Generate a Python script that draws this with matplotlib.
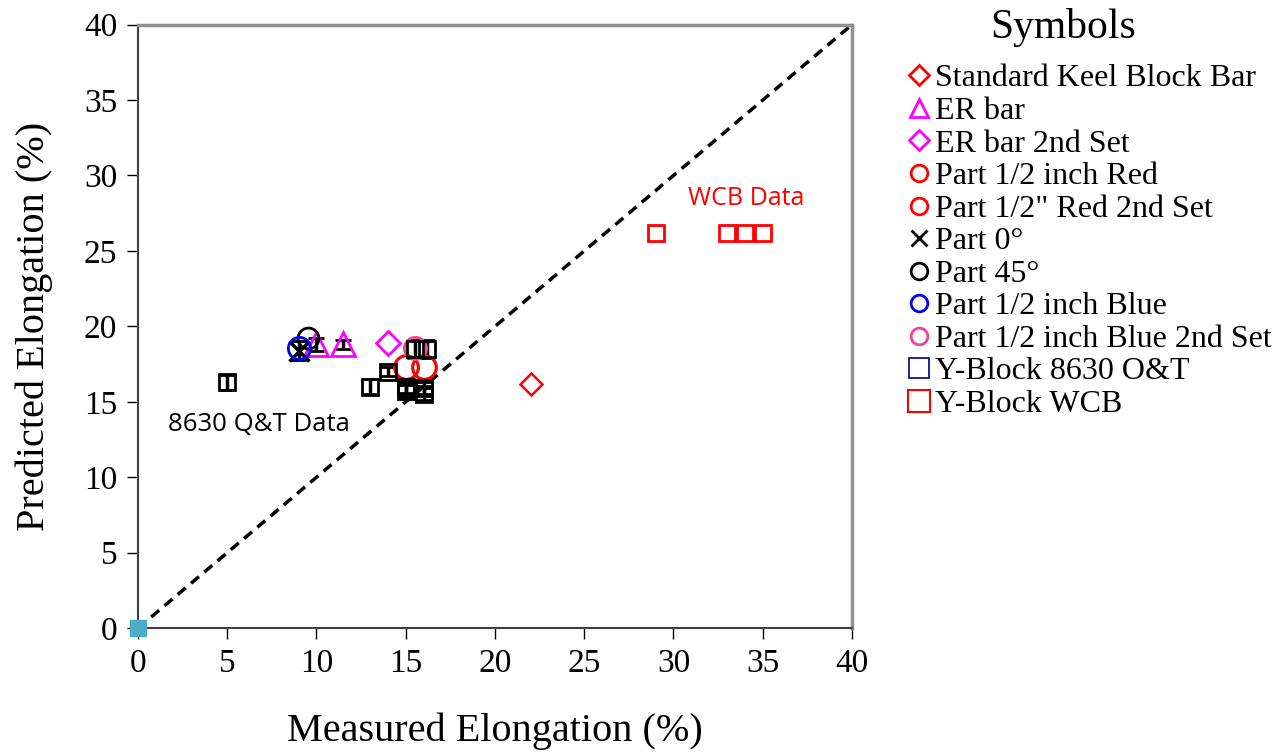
import matplotlib
matplotlib.use("Agg")
import matplotlib.pyplot as plt

SERIF = "Liberation Serif"

# (measured %, predicted %) per series
keel_x, keel_y = [22.0], [16.2]
er_x, er_y = [10.0, 11.5], [18.8, 18.8]
er2_x, er2_y = [14.0], [18.9]
red_x, red_y = [15.0, 16.0], [17.3, 17.3]
red2_x, red2_y = [15.0, 16.0], [17.3, 17.3]
p0_x, p0_y = [9.0], [18.4]
p45_x, p45_y = [9.5], [19.2]
blue_x, blue_y = [9.0], [18.6]
blue2_x, blue2_y = [15.5], [18.6]
qt_x = [5.0, 13.0, 14.0, 15.0, 15.0, 15.5, 16.2, 16.0, 16.0]
qt_y = [16.3, 16.0, 17.0, 16.0, 15.7, 18.5, 18.5, 15.9, 15.5]
qt_err = [0.5, 0.5, 0.3, 0.4, 0.4, 0.6, 0.6, 0.4, 0.4]
er_err = [0.4, 0.3]
wcb_x, wcb_y = [29.0, 33.0, 34.0, 35.0], [26.2, 26.2, 26.2, 26.2]

fig = plt.figure(figsize=(12.87, 7.55), dpi=100)
ax = fig.add_axes([0.1072, 0.168, 0.5548, 0.7994])

ax.plot([0, 40], [0, 40], ls=(0, (3, 2)), color="black", lw=2.5, zorder=1)

# error bars drawn underneath the markers
ax.errorbar(qt_x, qt_y, yerr=qt_err, fmt="none", ecolor="black", elinewidth=2.5,
            capsize=6, capthick=2, zorder=2)
ax.errorbar(er_x, er_y, yerr=er_err, fmt="none", ecolor="black", elinewidth=2.5,
            capsize=6, capthick=2, zorder=2)
ax.errorbar(p0_x, p0_y, yerr=[0.6], fmt="none", ecolor="black", elinewidth=2.5,
            capsize=6, capthick=2, zorder=2)

mk = dict(ls="none", mfc="none", zorder=3)
ax.plot(keel_x, keel_y, marker="D", ms=11, mec="red", mew=1.8, **mk)
ax.plot(er_x, er_y, marker="^", ms=17, mec="magenta", mew=2, **mk)
ax.plot(er2_x, er2_y, marker="D", ms=12, mec="magenta", mew=2, **mk)
ax.plot(red_x, red_y, marker="o", ms=17, mec="red", mew=2, **mk)
ax.plot(red2_x, red2_y, marker="o", ms=17, mec="red", mew=2, **mk)
ax.plot(p0_x, p0_y, marker="x", ms=14, mec="black", mew=2.5, **mk)
ax.plot(p45_x, p45_y, marker="o", ms=15, mec="black", mew=2, **mk)
ax.plot(blue_x, blue_y, marker="o", ms=16, mec="blue", mew=2, **mk)
ax.plot(blue2_x, blue2_y, marker="o", ms=16, mec="#ee4499", mew=2, **mk)
ax.plot(qt_x, qt_y, marker="s", ms=11, mec="black", mew=2, **mk)
ax.plot(wcb_x, wcb_y, marker="s", ms=11, mec="red", mew=2, **mk)
ax.plot([0], [0], marker="s", ms=12, mfc="#4BACC6", mec="#4BACC6", ls="none",
        clip_on=False, zorder=5)

ax.text(30.8, 28.5, "WCB Data", color="red", fontsize=18, family="Open Sans", va="center")
ax.text(1.7, 13.5, "8630 Q&T Data", color="black", fontsize=18.5, family="Open Sans", va="center")

ax.set_xlim(0, 40)
ax.set_ylim(0, 40)
ax.set_xticks(range(0, 41, 5))
ax.set_yticks(range(0, 41, 5))
ax.tick_params(direction="out", length=8, width=1, labelsize=24, pad=7)
for lab in ax.get_xticklabels() + ax.get_yticklabels():
    lab.set_family(SERIF)
ax.set_xlabel("Measured Elongation (%)", family=SERIF, fontsize=29, labelpad=24)
ax.set_ylabel("Predicted Elongation (%)", family=SERIF, fontsize=29, labelpad=22)
for s in ["left", "bottom"]:
    ax.spines[s].set_color("#404040")
    ax.spines[s].set_linewidth(1.5)
for s in ["top", "right"]:
    ax.spines[s].set_color("#909090")
    ax.spines[s].set_linewidth(2.5)

# legend
H = lambda **kw: plt.Line2D([], [], ls="none", mfc="none", **kw)
handles = [
    H(marker="D", ms=10, mec="red", mew=2),
    H(marker="^", ms=13, mec="magenta", mew=2),
    H(marker="D", ms=10, mec="magenta", mew=2),
    H(marker="o", ms=12, mec="red", mew=2),
    H(marker="o", ms=12, mec="red", mew=2),
    H(marker="x", ms=12, mec="black", mew=2),
    H(marker="o", ms=12, mec="black", mew=2),
    H(marker="o", ms=12, mec="blue", mew=2),
    H(marker="o", ms=12, mec="#ee4499", mew=2),
    H(marker="s", ms=15, mec="navy", mew=1.2),
    H(marker="s", ms=16, mec="red", mew=1.5),
]
labels = ["Standard Keel Block Bar", "ER bar", "ER bar 2nd Set", "Part 1/2 inch Red",
          'Part 1/2" Red 2nd Set', "Part 0°", "Part 45°", "Part 1/2 inch Blue",
          "Part 1/2 inch Blue 2nd Set", "Y-Block 8630 O&T", "Y-Block WCB"]
fig.text(0.826, 0.963, "Symbols", family=SERIF, fontsize=30, ha="center", va="center")
fig.legend(handles, labels, loc="upper left", bbox_to_anchor=(0.697, 0.932),
           frameon=False, prop={"family": SERIF, "size": 23},
           handlelength=0.6, handletextpad=0.2, labelspacing=0.1,
           borderaxespad=0)

fig.savefig("out.png", dpi=100)
